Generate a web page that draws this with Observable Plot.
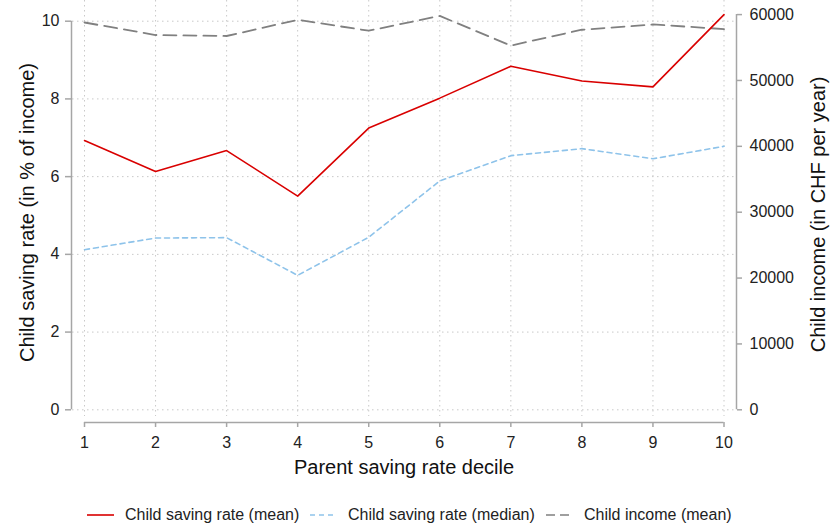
<!DOCTYPE html>
<html>
<head>
<meta charset="utf-8">
<script src="https://cdn.jsdelivr.net/npm/d3@7"></script>
<script src="https://cdn.jsdelivr.net/npm/@observablehq/plot@0.6"></script>
<style>
  body { margin: 0; background: #fff; font-family: "Liberation Sans", Arial, sans-serif; }
  #chart { width: 831px; }
  .legend { position: relative; height: 34px; font-size: 16px; color: #222; }
  .legend .item { position: absolute; top: 11px; display: flex; align-items: center; }
  .legend svg { margin-right: 11px; }
</style>
</head>
<body>
<div id="chart"></div>
<script>
// ---- data ----
const deciles = [1, 2, 3, 4, 5, 6, 7, 8, 9, 10];
const savingMean = [6.93, 6.13, 6.67, 5.50, 7.25, 8.02, 8.84, 8.46, 8.31, 10.17];
const savingMedian = [4.12, 4.42, 4.43, 3.46, 4.44, 5.89, 6.54, 6.72, 6.46, 6.78];
const incomeMean = [58800, 56900, 56750, 59200, 57550, 59800, 55300, 57700, 58500, 57800];
const leftTicks = [0, 2, 4, 6, 8, 10];
const rightTicks = [0, 10000, 20000, 30000, 40000, 50000, 60000];
const xTitle = "Parent saving rate decile";
const yLeftTitle = "Child saving rate (in % of income)";
const yRightTitle = "Child income (in CHF per year)";
const seriesNames = ["Child saving rate (mean)", "Child saving rate (median)", "Child income (mean)"];

// right axis expressed in left-axis units (60000 CHF sits at 10.17 %)
const k = 10.17 / 60000;

const meanData = deciles.map((d, i) => ({d, v: savingMean[i]}));
const medianData = deciles.map((d, i) => ({d, v: savingMedian[i]}));
const incomeData = deciles.map((d, i) => ({d, v: incomeMean[i] * k}));

const RED = "#d90000", BLUE = "#8ec3ea", GRAY = "#808080", AX = "#a6a6a6", GRID = "#c9c9c9";

const chart = Plot.plot({
  width: 831,
  height: 495,
  marginLeft: 72,
  marginRight: 96,
  marginTop: 0,
  marginBottom: 79,
  style: {fontFamily: "'Liberation Sans', Arial, sans-serif", fontSize: "16px", color: "#222", background: "#fff"},
  x: {domain: [1, 10], range: [84, 723.5]},
  y: {domain: [0, 10], range: [409.3, 20.7]},
  marks: [
    // gridlines
    Plot.ruleY(leftTicks, {stroke: GRID, strokeDasharray: "1.5,3.5", strokeWidth: 1}),
    Plot.ruleX(deciles, {stroke: GRID, strokeDasharray: "1.5,3.5", strokeWidth: 1}),
    // axis lines
    Plot.ruleX([deciles[0]], {y1: 0, y2: 10, dx: -13, stroke: AX, strokeWidth: 1.5}),
    Plot.ruleX([deciles[deciles.length - 1]], {y1: 0, y2: rightTicks[rightTicks.length - 1] * k, dx: 12.5, stroke: AX, strokeWidth: 1.5}),
    Plot.ruleY([0], {x1: deciles[0], x2: deciles[deciles.length - 1], dy: 12.7, stroke: AX, strokeWidth: 1.5}),
    // axes
    Plot.axisY(leftTicks, {anchor: "left", dx: -1, tickSize: 6, tickPadding: 6, stroke: AX, strokeWidth: 1.5, label: null, fontSize: 16}),
    Plot.axisY(rightTicks.map(v => v * k), {anchor: "right", dx: 1, tickSize: 5, tickPadding: 8, stroke: AX, strokeWidth: 1.5, label: null, fontSize: 16, tickFormat: d => String(Math.round(d / k / 1000) * 1000)}),
    Plot.axisX(deciles, {anchor: "bottom", dy: 6, tickSize: 5, tickPadding: 9, stroke: AX, strokeWidth: 1.5, label: null, fontSize: 16}),
    // titles
    Plot.text([xTitle], {frameAnchor: "bottom", lineAnchor: "middle", textAnchor: "middle", dy: 51, fontSize: 20, fill: "#111"}),
    Plot.text([yLeftTitle], {frameAnchor: "left", lineAnchor: "middle", textAnchor: "middle", rotate: -90, dx: -45, dy: 4, fontSize: 20, fill: "#111"}),
    Plot.text([yRightTitle], {frameAnchor: "right", lineAnchor: "middle", textAnchor: "middle", rotate: -90, dx: 83, dy: 6, fontSize: 20, fill: "#111"}),
    // series
    Plot.line(incomeData, {x: "d", y: "v", stroke: GRAY, strokeWidth: 1.8, strokeDasharray: "13,7"}),
    Plot.line(medianData, {x: "d", y: "v", stroke: BLUE, strokeWidth: 1.6, strokeDasharray: "5,4"}),
    Plot.line(meanData, {x: "d", y: "v", stroke: RED, strokeWidth: 1.6})
  ]
});
document.getElementById("chart").appendChild(chart);

// legend
const legend = document.createElement("div");
legend.className = "legend";
const items = [
  {name: seriesNames[0], color: RED, dash: null, left: 87},
  {name: seriesNames[1], color: BLUE, dash: "5,4", left: 310},
  {name: seriesNames[2], color: GRAY, dash: "9,5", left: 546}
];
for (const it of items) {
  const div = document.createElement("div");
  div.className = "item";
  div.style.left = it.left + "px";
  div.innerHTML = `<svg width="27" height="4"><line x1="0" x2="27" y1="2" y2="2" stroke="${it.color}" stroke-width="1.6" ${it.dash ? `stroke-dasharray="${it.dash}"` : ""}/></svg><span>${it.name}</span>`;
  legend.appendChild(div);
}
document.getElementById("chart").appendChild(legend);
</script>
</body>
</html>
